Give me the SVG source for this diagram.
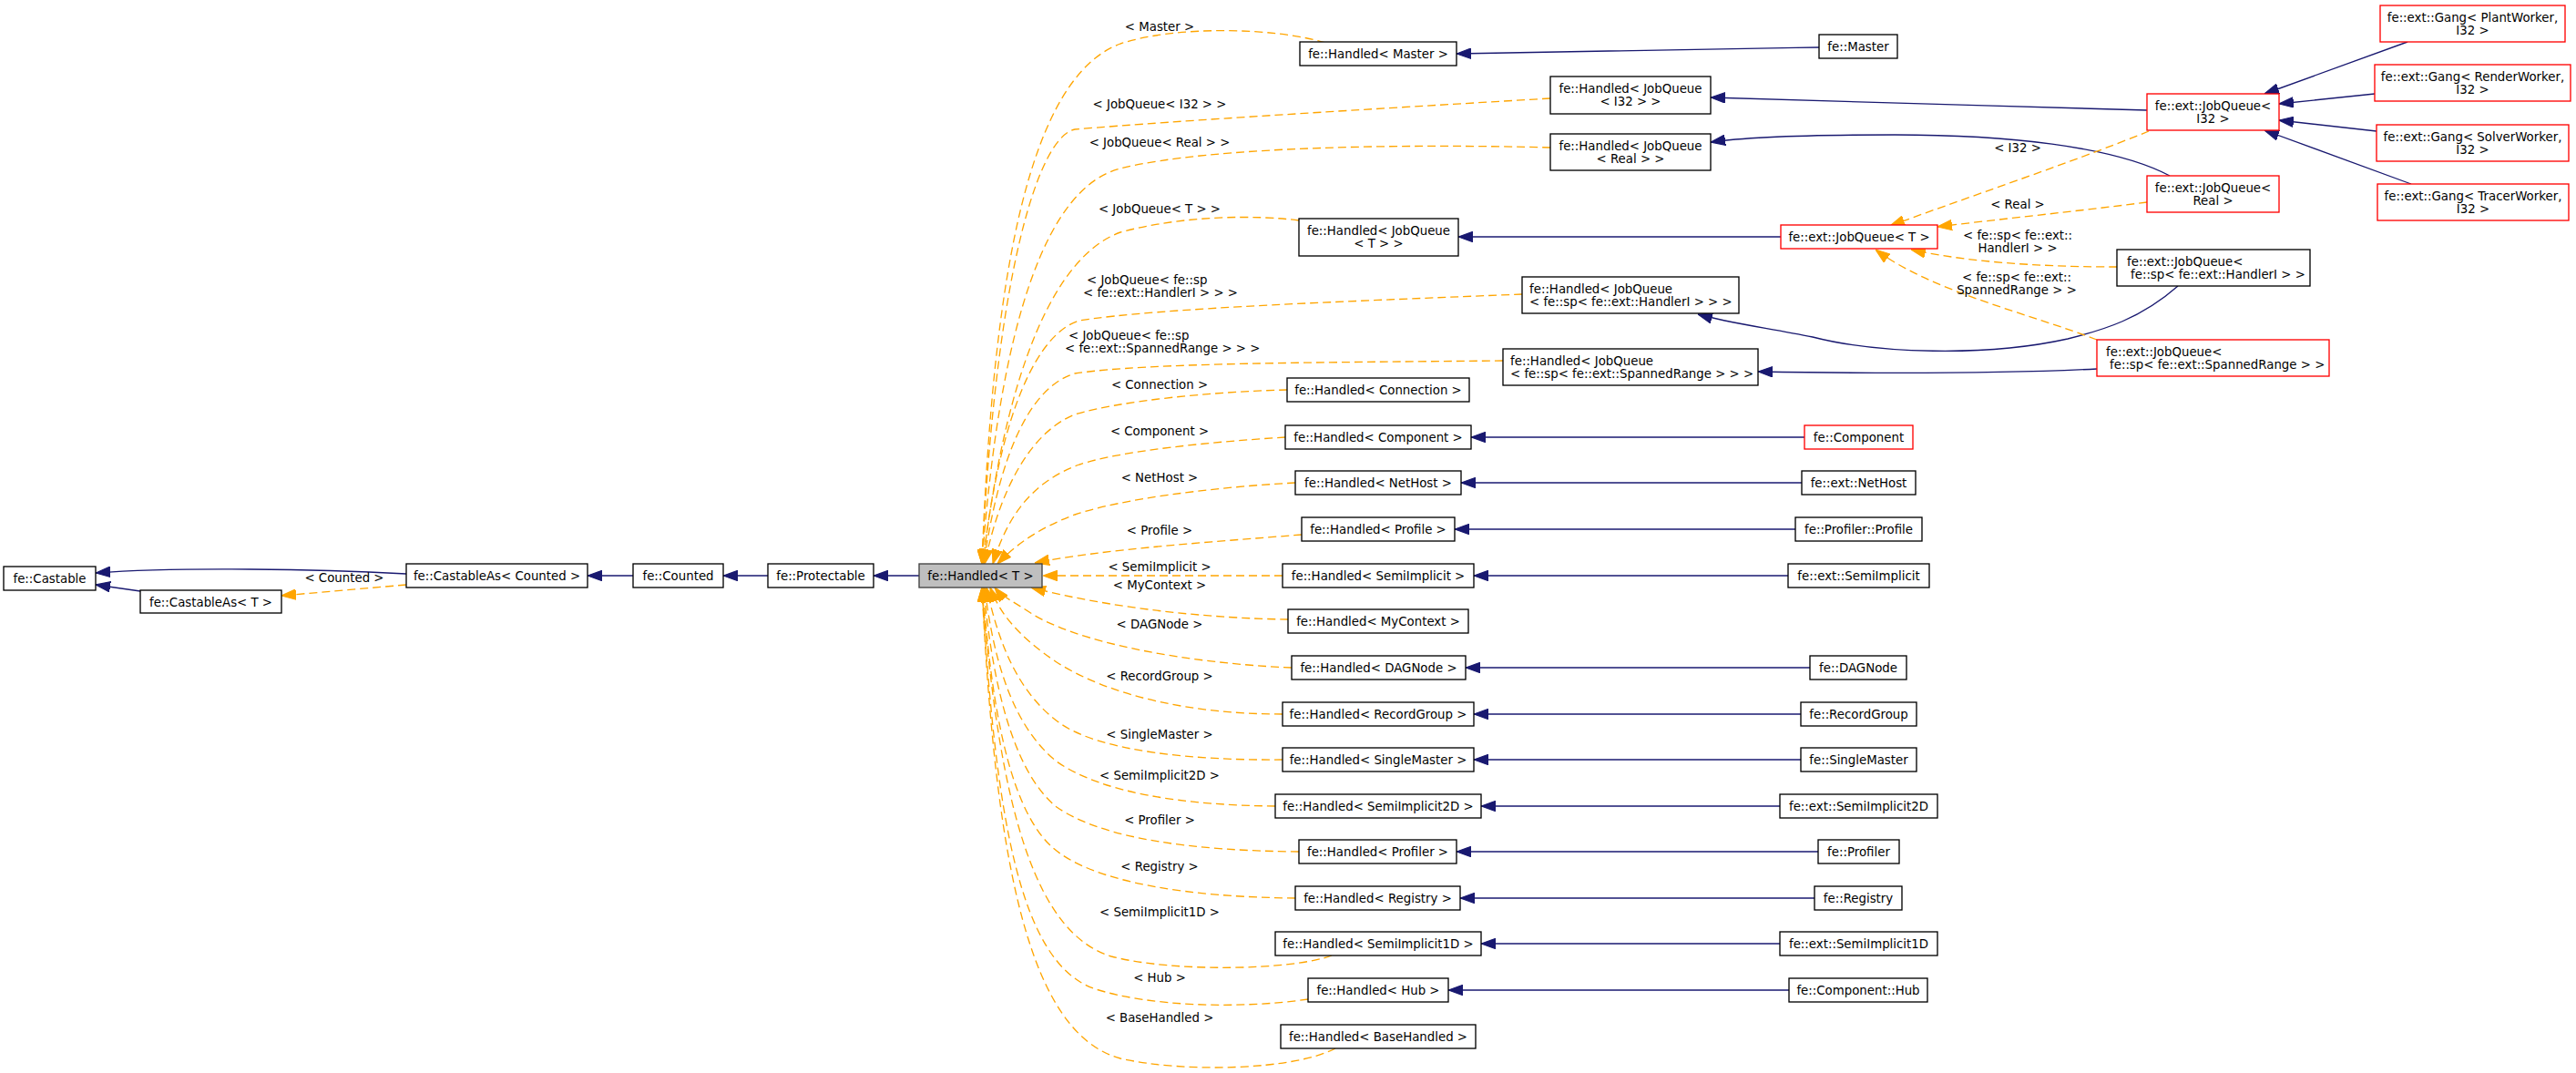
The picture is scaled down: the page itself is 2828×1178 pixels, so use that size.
<svg xmlns="http://www.w3.org/2000/svg" width="2828" height="1178" viewBox="0 0 2828 1178">
<style>
.n rect{fill:#fff;stroke:#000;stroke-width:1.33}
.n.r rect{stroke:#ff0000}
.n.g rect{fill:#bfbfbf;stroke:#404040}
text{font-family:"DejaVu Sans","Liberation Sans",sans-serif;font-size:13.33px;fill:#000}
.n text,.l text{text-anchor:middle}
text.s{text-anchor:start}
.e{fill:none;stroke:#191970;stroke-width:1.33;marker-end:url(#ab)}
.d{fill:none;stroke:#ffa500;stroke-width:1.33;stroke-dasharray:9,5;marker-end:url(#ao)}
</style>
<defs>
<marker id="ab" markerUnits="userSpaceOnUse" markerWidth="16" markerHeight="12" viewBox="0 0 14 10" refX="14" refY="5" orient="auto"><path d="M0,0L14,5L0,10z" fill="#191970" stroke="#191970" stroke-width="1" stroke-dasharray="none"/></marker>
<marker id="ao" markerUnits="userSpaceOnUse" markerWidth="16" markerHeight="12" viewBox="0 0 14 10" refX="14" refY="5" orient="auto"><path d="M0,0L14,5L0,10z" fill="#ffa500" stroke="#ffa500" stroke-width="1" stroke-dasharray="none"/></marker>
</defs>
<rect width="2828" height="1178" fill="#fff"/>
<g id="edges">
<path class="e" d="M446,630 C350,625 200,622 105,629"/>
<path class="e" d="M154,649 L105,642"/>
<path class="d" d="M446,642 L309,654"/>
<path class="e" d="M695,632 L645,632"/>
<path class="e" d="M843,632 L794,632"/>
<path class="e" d="M1009,632 L959,632"/>
<path class="d" d="M1455,47 C1400,30 1290,28 1230,48 C1130,85 1090,300 1078,619"/>
<path class="d" d="M1702,108 C1500,120 1300,132 1180,142 C1140,150 1093,300 1078,619"/>
<path class="d" d="M1702,162 C1550,158 1330,160 1230,185 C1150,205 1098,350 1078,619"/>
<path class="d" d="M1426,242 C1380,236 1300,236 1230,255 C1160,280 1105,400 1079,619"/>
<path class="d" d="M1671,323 C1500,330 1270,338 1185,352 C1140,365 1098,450 1079,619"/>
<path class="d" d="M1650,396 C1450,398 1260,398 1180,410 C1130,425 1097,500 1080,619"/>
<path class="d" d="M1413,428 C1330,430 1230,440 1180,455 C1130,475 1097,540 1081,619"/>
<path class="d" d="M1411,480 C1330,485 1230,495 1185,510 C1130,530 1105,570 1090,619"/>
<path class="d" d="M1422,530 C1330,535 1230,548 1180,565 C1140,580 1115,598 1095,619"/>
<path class="d" d="M1429,587 C1330,595 1210,603 1136,618"/>
<path class="d" d="M1408,632 L1145,632"/>
<path class="d" d="M1414,680 C1330,679 1220,668 1132,645"/>
<path class="d" d="M1418,733 C1300,728 1180,705 1130,672 C1112,660 1100,655 1092,645"/>
<path class="d" d="M1408,784 C1310,784 1220,765 1160,727 C1120,700 1098,675 1087,645"/>
<path class="d" d="M1408,834 C1310,835 1210,825 1165,795 C1115,760 1095,700 1083,645"/>
<path class="d" d="M1400,885 C1300,884 1210,871 1160,836 C1110,796 1090,720 1081,645"/>
<path class="d" d="M1426,935 C1310,934 1210,921 1160,886 C1110,846 1088,740 1080,645"/>
<path class="d" d="M1422,986 C1310,985 1200,970 1155,930 C1105,885 1087,760 1079,645"/>
<path class="d" d="M1462,1049 C1420,1065 1290,1068 1220,1050 C1140,1025 1098,900 1078,645"/>
<path class="d" d="M1436,1097 C1360,1108 1260,1105 1200,1085 C1120,1055 1093,900 1078,645"/>
<path class="d" d="M1466,1151 C1420,1175 1300,1178 1230,1162 C1130,1135 1093,950 1078,645"/>
<path class="e" d="M1997,52 C1850,54 1700,57 1599,59"/>
<path class="e" d="M2357,121 C2200,117 2000,110 1878,107"/>
<path class="e" d="M2382,193 C2320,160 2200,148 2080,148 C1990,148 1920,150 1878,156"/>
<path class="e" d="M1955,260 L1601,260"/>
<path class="e" d="M2391,314 C2350,350 2310,362 2270,372 C2180,392 2060,388 1990,370 C1940,360 1895,354 1864,345"/>
<path class="e" d="M2302,405 C2200,410 2050,410 1930,408"/>
<path class="e" d="M2643,46 L2486,103"/>
<path class="e" d="M2607,103 L2502,114"/>
<path class="e" d="M2609,144 L2502,132"/>
<path class="e" d="M2647,202 L2486,143"/>
<path class="d" d="M2359,144 C2270,180 2150,220 2075,248"/>
<path class="d" d="M2357,222 C2280,232 2200,240 2127,249"/>
<path class="d" d="M2324,293 C2260,293 2170,290 2098,274"/>
<path class="d" d="M2302,373 C2230,345 2120,320 2059,274"/>
<path class="e" d="M1981,480 L1615,480"/>
<path class="e" d="M1978,530 L1604,530"/>
<path class="e" d="M1971,581 L1597,581"/>
<path class="e" d="M1963,632 L1618,632"/>
<path class="e" d="M1987,733 L1609,733"/>
<path class="e" d="M1977,784 L1618,784"/>
<path class="e" d="M1977,834 L1618,834"/>
<path class="e" d="M1954,885 L1626,885"/>
<path class="e" d="M1996,935 L1599,935"/>
<path class="e" d="M1992,986 L1603,986"/>
<path class="e" d="M1954,1036 L1626,1036"/>
<path class="e" d="M1964,1087 L1590,1087"/>
</g>
<g id="labels" class="l">
<text x="378" y="639">&lt; Counted &gt;</text>
<text x="1273" y="34">&lt; Master &gt;</text>
<text x="1273" y="119">&lt; JobQueue&lt; I32 &gt; &gt;</text>
<text x="1273" y="161">&lt; JobQueue&lt; Real &gt; &gt;</text>
<text x="1273" y="234">&lt; JobQueue&lt; T &gt; &gt;</text>
<text class="s" x="1193" y="312">&lt; JobQueue&lt; fe::sp</text>
<text class="s" x="1189" y="326">&lt; fe::ext::HandlerI &gt; &gt; &gt;</text>
<text class="s" x="1173" y="373">&lt; JobQueue&lt; fe::sp</text>
<text class="s" x="1169" y="387">&lt; fe::ext::SpannedRange &gt; &gt; &gt;</text>
<text x="1273" y="427">&lt; Connection &gt;</text>
<text x="1273" y="478">&lt; Component &gt;</text>
<text x="1273" y="529">&lt; NetHost &gt;</text>
<text x="1273" y="587">&lt; Profile &gt;</text>
<text x="1273" y="627">&lt; SemiImplicit &gt;</text>
<text x="1273" y="647">&lt; MyContext &gt;</text>
<text x="1273" y="690">&lt; DAGNode &gt;</text>
<text x="1273" y="747">&lt; RecordGroup &gt;</text>
<text x="1273" y="811">&lt; SingleMaster &gt;</text>
<text x="1273" y="856">&lt; SemiImplicit2D &gt;</text>
<text x="1273" y="905">&lt; Profiler &gt;</text>
<text x="1273" y="956">&lt; Registry &gt;</text>
<text x="1273" y="1006">&lt; SemiImplicit1D &gt;</text>
<text x="1273" y="1078">&lt; Hub &gt;</text>
<text x="1273" y="1122">&lt; BaseHandled &gt;</text>
<text x="2215" y="167">&lt; I32 &gt;</text>
<text x="2215" y="229">&lt; Real &gt;</text>
<text x="2215" y="263">&lt; fe::sp&lt; fe::ext::</text>
<text x="2215" y="277">HandlerI &gt; &gt;</text>
<text x="2214" y="309">&lt; fe::sp&lt; fe::ext::</text>
<text x="2214" y="323">SpannedRange &gt; &gt;</text>
</g>
<g id="castable" class="n"><rect x="4" y="622" width="101" height="26"/><text x="54.5" y="640">fe::Castable</text></g>
<g id="castableas_t" class="n"><rect x="154" y="648" width="155" height="25"/><text x="231.5" y="665.5">fe::CastableAs&lt; T &gt;</text></g>
<g id="castableas_counted" class="n"><rect x="446" y="619" width="199" height="26"/><text x="545.5" y="637">fe::CastableAs&lt; Counted &gt;</text></g>
<g id="counted" class="n"><rect x="695" y="619" width="99" height="26"/><text x="744.5" y="637">fe::Counted</text></g>
<g id="protectable" class="n"><rect x="843" y="619" width="116" height="26"/><text x="901" y="637">fe::Protectable</text></g>
<g id="handled_t" class="n g"><rect x="1009" y="619" width="135" height="26"/><text x="1076.5" y="637">fe::Handled&lt; T &gt;</text></g>
<g id="handled_master" class="n"><rect x="1427" y="46" width="172" height="26"/><text x="1513" y="64">fe::Handled&lt; Master &gt;</text></g>
<g id="master" class="n"><rect x="1997" y="38" width="86" height="26"/><text x="2040" y="56">fe::Master</text></g>
<g id="handled_jq_i32" class="n"><rect x="1702" y="84" width="176" height="41"/><text x="1790" y="102">fe::Handled&lt; JobQueue</text><text x="1790" y="116">&lt; I32 &gt; &gt;</text></g>
<g id="handled_jq_real" class="n"><rect x="1702" y="147" width="176" height="40"/><text x="1790" y="165">fe::Handled&lt; JobQueue</text><text x="1790" y="179">&lt; Real &gt; &gt;</text></g>
<g id="handled_jq_t" class="n"><rect x="1426" y="240" width="175" height="41"/><text x="1513.5" y="258">fe::Handled&lt; JobQueue</text><text x="1513.5" y="272">&lt; T &gt; &gt;</text></g>
<g id="handled_jq_handleri" class="n"><rect x="1671" y="304" width="238" height="40"/><text class="s" x="1679" y="322">fe::Handled&lt; JobQueue</text><text class="s" x="1679" y="336">&lt; fe::sp&lt; fe::ext::HandlerI &gt; &gt; &gt;</text></g>
<g id="handled_jq_spanned" class="n"><rect x="1650" y="383" width="280" height="40"/><text class="s" x="1658" y="401">fe::Handled&lt; JobQueue</text><text class="s" x="1658" y="415">&lt; fe::sp&lt; fe::ext::SpannedRange &gt; &gt; &gt;</text></g>
<g id="handled_connection" class="n"><rect x="1413" y="415" width="200" height="26"/><text x="1513" y="433">fe::Handled&lt; Connection &gt;</text></g>
<g id="jq_i32" class="n r"><rect x="2357" y="103" width="145" height="40"/><text x="2429.5" y="121">fe::ext::JobQueue&lt;</text><text x="2429.5" y="135">I32 &gt;</text></g>
<g id="jq_real" class="n r"><rect x="2357" y="193" width="145" height="40"/><text x="2429.5" y="211">fe::ext::JobQueue&lt;</text><text x="2429.5" y="225">Real &gt;</text></g>
<g id="jq_t" class="n r"><rect x="1955" y="247" width="172" height="26"/><text x="2041" y="265">fe::ext::JobQueue&lt; T &gt;</text></g>
<g id="jq_handleri" class="n"><rect x="2324" y="274" width="212" height="40"/><text class="s" x="2335" y="292">fe::ext::JobQueue&lt;</text><text class="s" x="2339" y="306">fe::sp&lt; fe::ext::HandlerI &gt; &gt;</text></g>
<g id="jq_spanned" class="n r"><rect x="2302" y="373" width="255" height="40"/><text class="s" x="2312" y="391">fe::ext::JobQueue&lt;</text><text class="s" x="2316" y="405">fe::sp&lt; fe::ext::SpannedRange &gt; &gt;</text></g>
<g id="gang_plant" class="n r"><rect x="2613" y="6" width="203" height="40"/><text x="2714.5" y="24">fe::ext::Gang&lt; PlantWorker,</text><text x="2714.5" y="38">I32 &gt;</text></g>
<g id="gang_render" class="n r"><rect x="2607" y="71" width="215" height="40"/><text x="2714.5" y="89">fe::ext::Gang&lt; RenderWorker,</text><text x="2714.5" y="103">I32 &gt;</text></g>
<g id="gang_solver" class="n r"><rect x="2609" y="137" width="211" height="40"/><text x="2714.5" y="155">fe::ext::Gang&lt; SolverWorker,</text><text x="2714.5" y="169">I32 &gt;</text></g>
<g id="gang_tracer" class="n r"><rect x="2610" y="202" width="210" height="40"/><text x="2715" y="220">fe::ext::Gang&lt; TracerWorker,</text><text x="2715" y="234">I32 &gt;</text></g>
<g id="handled_component" class="n"><rect x="1411" y="467" width="204" height="26"/><text x="1513" y="485">fe::Handled&lt; Component &gt;</text></g>
<g id="component" class="n r"><rect x="1981" y="467" width="119" height="26"/><text x="2040.5" y="485">fe::Component</text></g>
<g id="handled_nethost" class="n"><rect x="1422" y="517" width="182" height="26"/><text x="1513" y="535">fe::Handled&lt; NetHost &gt;</text></g>
<g id="nethost" class="n"><rect x="1978" y="517" width="125" height="26"/><text x="2040.5" y="535">fe::ext::NetHost</text></g>
<g id="handled_profile" class="n"><rect x="1429" y="568" width="168" height="26"/><text x="1513" y="586">fe::Handled&lt; Profile &gt;</text></g>
<g id="profile" class="n"><rect x="1971" y="568" width="139" height="26"/><text x="2040.5" y="586">fe::Profiler::Profile</text></g>
<g id="handled_semiimplicit" class="n"><rect x="1408" y="619" width="210" height="26"/><text x="1513" y="637">fe::Handled&lt; SemiImplicit &gt;</text></g>
<g id="semiimplicit" class="n"><rect x="1963" y="619" width="155" height="26"/><text x="2040.5" y="637">fe::ext::SemiImplicit</text></g>
<g id="handled_mycontext" class="n"><rect x="1414" y="669" width="198" height="26"/><text x="1513" y="687">fe::Handled&lt; MyContext &gt;</text></g>
<g id="handled_dagnode" class="n"><rect x="1418" y="720" width="191" height="26"/><text x="1513.5" y="738">fe::Handled&lt; DAGNode &gt;</text></g>
<g id="dagnode" class="n"><rect x="1987" y="720" width="106" height="26"/><text x="2040" y="738">fe::DAGNode</text></g>
<g id="handled_recordgroup" class="n"><rect x="1408" y="771" width="210" height="26"/><text x="1513" y="789">fe::Handled&lt; RecordGroup &gt;</text></g>
<g id="recordgroup" class="n"><rect x="1977" y="771" width="127" height="26"/><text x="2040.5" y="789">fe::RecordGroup</text></g>
<g id="handled_singlemaster" class="n"><rect x="1408" y="821" width="210" height="26"/><text x="1513" y="839">fe::Handled&lt; SingleMaster &gt;</text></g>
<g id="singlemaster" class="n"><rect x="1977" y="821" width="127" height="26"/><text x="2040.5" y="839">fe::SingleMaster</text></g>
<g id="handled_semiimplicit2d" class="n"><rect x="1400" y="872" width="226" height="26"/><text x="1513" y="890">fe::Handled&lt; SemiImplicit2D &gt;</text></g>
<g id="semiimplicit2d" class="n"><rect x="1954" y="872" width="173" height="26"/><text x="2040.5" y="890">fe::ext::SemiImplicit2D</text></g>
<g id="handled_profiler" class="n"><rect x="1426" y="922" width="173" height="26"/><text x="1512.5" y="940">fe::Handled&lt; Profiler &gt;</text></g>
<g id="profiler" class="n"><rect x="1996" y="922" width="89" height="26"/><text x="2040.5" y="940">fe::Profiler</text></g>
<g id="handled_registry" class="n"><rect x="1422" y="973" width="181" height="26"/><text x="1512.5" y="991">fe::Handled&lt; Registry &gt;</text></g>
<g id="registry" class="n"><rect x="1992" y="973" width="96" height="26"/><text x="2040" y="991">fe::Registry</text></g>
<g id="handled_semiimplicit1d" class="n"><rect x="1400" y="1023" width="226" height="26"/><text x="1513" y="1041">fe::Handled&lt; SemiImplicit1D &gt;</text></g>
<g id="semiimplicit1d" class="n"><rect x="1954" y="1023" width="173" height="26"/><text x="2040.5" y="1041">fe::ext::SemiImplicit1D</text></g>
<g id="handled_hub" class="n"><rect x="1436" y="1074" width="154" height="26"/><text x="1513" y="1092">fe::Handled&lt; Hub &gt;</text></g>
<g id="hub" class="n"><rect x="1964" y="1074" width="152" height="26"/><text x="2040" y="1092">fe::Component::Hub</text></g>
<g id="handled_basehandled" class="n"><rect x="1406" y="1125" width="214" height="26"/><text x="1513" y="1143">fe::Handled&lt; BaseHandled &gt;</text></g>
</svg>
